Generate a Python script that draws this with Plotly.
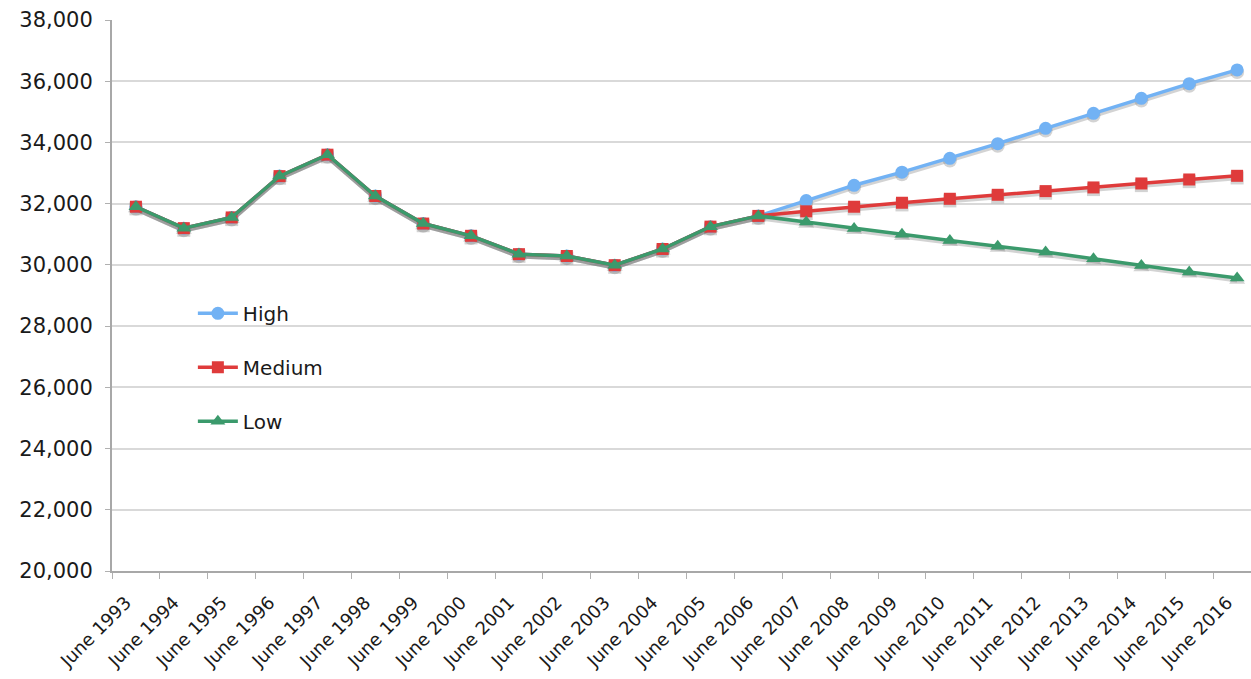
import plotly.graph_objects as go

# Population projections, June 1993 - June 2016
years = [f"June {y}" for y in range(1993, 2017)]

# Shared estimates up to June 2006
history = [31900, 31200, 31550, 32900, 33600, 32250, 31350, 30950, 30350, 30290,
           29990, 30520, 31250, 31600]

high_proj = [32100, 32600, 33030, 33480, 33960, 34460, 34950, 35440, 35920, 36370]
medium_proj = [31750, 31900, 32030, 32160, 32290, 32410, 32530, 32660, 32790, 32910]
low_proj = [31400, 31190, 31000, 30800, 30610, 30420, 30200, 29980, 29770, 29570]

high = history + high_proj
medium = history + medium_proj
low = history + low_proj

series = [
    ("High", high, "#72b2f4", "circle", 13),
    ("Medium", medium, "#df3b3b", "square", 12),
    ("Low", low, "#3b9a6c", "triangle-up", 13),
]

SHADOW_DY = 70  # soft drop shadow under each line, in axis units

fig = go.Figure()

for name, vals, color, symbol, size in series:
    fig.add_trace(go.Scatter(
        x=years, y=[v - SHADOW_DY for v in vals], mode="lines+markers",
        line=dict(color="rgba(110,110,110,0.30)", width=4.5),
        marker=dict(symbol=symbol, size=size + 1, color="rgba(110,110,110,0.30)"),
        showlegend=False, hoverinfo="skip",
    ))

for name, vals, color, symbol, size in series:
    fig.add_trace(go.Scatter(
        x=years, y=vals, name=name, mode="lines+markers",
        line=dict(color=color, width=3.5),
        marker=dict(symbol=symbol, size=size, color=color),
        legendgroup=name,
    ))

# white panel behind the legend hides the gridlines there
fig.add_shape(type="rect", xref="paper", yref="paper",
              x0=0.0263, x1=0.2467, y0=0.165, y1=0.537,
              fillcolor="white", line=dict(width=0), layer="between")

fig.update_layout(
    width=1251, height=679,
    margin=dict(l=112, r=0, t=20, b=108),
    paper_bgcolor="white", plot_bgcolor="white",
    font=dict(family="DejaVu Sans", color="#1a1a1a"),
    showlegend=True,
    legend=dict(
        x=0.071, y=0.503, xanchor="left", yanchor="top",
        bgcolor="rgba(0,0,0,0)", font=dict(size=20, family="DejaVu Sans"),
        tracegroupgap=25, itemwidth=40,
    ),
)

fig.update_xaxes(
    type="category", range=[-0.5, 23.29], automargin=False,
    tickson="boundaries", ticks="outside", ticklen=6, tickcolor="#b0b0b0",
    showline=True, linecolor="#a8a8a8", linewidth=2,
    showgrid=False, tickangle=-45, tickfont=dict(size=18),
    ticklabelstandoff=12, ticklabelshift=-10,
)

fig.update_yaxes(
    range=[20000, 38000], dtick=2000, tickformat=",", automargin=False,
    showgrid=True, gridcolor="#d9d9d9", gridwidth=2,
    showline=True, linecolor="#a8a8a8", linewidth=2,
    ticks="outside", ticklen=5, tickcolor="#b0b0b0",
    tickfont=dict(size=21), ticklabelstandoff=8, zeroline=False,
)

fig.write_html("out.html")
